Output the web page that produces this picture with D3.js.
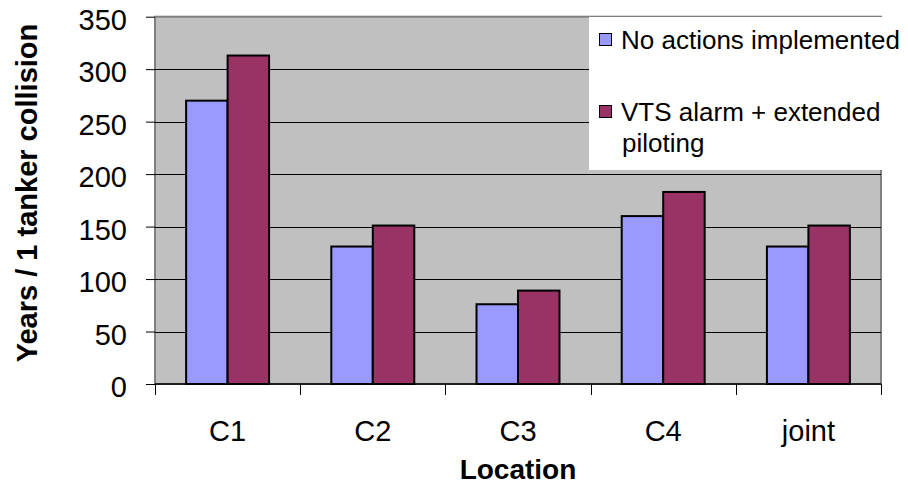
<!DOCTYPE html>
<html>
<head>
<meta charset="utf-8">
<script src="https://cdn.jsdelivr.net/npm/d3@7"></script>
<style>
    body { margin: 0; background: #ffffff; }
    svg { display: block; font-family: "Liberation Sans", Arial, sans-serif; }
</style>
</head>
<body>
<div id="chart"></div>
<script>

// data
var categories = ['C1', 'C2', 'C3', 'C4', 'joint']
var series_names = ['No actions implemented', 'VTS alarm + extended piloting']
var no_actions = [270, 131, 76, 160, 131]
var vts_alarm = [313, 151, 89, 183, 151]
var y_ticks = [0, 50, 100, 150, 200, 250, 300, 350]

var colours = {
    'blue': '#9999ff',
    'claret': '#993366',
    'plot_grey': '#c0c0c0',
    'border_grey': '#808080'
}

var dataviz_config = {
    'viz_width': 908,
    'viz_height': 486,
    'plot': { 'left': 155, 'right': 881, 'top': 16.7, 'bottom': 384 }
}

// one row per category, one value per series
var dataset = categories.map(function(c, i) {
    return { 'category': c, 'values': [no_actions[i], vts_alarm[i]] }
})

var svg = d3.select('#chart').append('svg')
    .attr('width', dataviz_config.viz_width)
    .attr('height', dataviz_config.viz_height)

var p = dataviz_config.plot

// scales
var xScale = d3.scaleBand()
    .domain(categories)
    .range([p.left, p.right])
    .paddingInner(0)
    .paddingOuter(0)

// excel style gap width of 150%
var xSub = d3.scaleBand()
    .domain([0, 1])
    .range([0, xScale.bandwidth()])
    .paddingInner(0)
    .paddingOuter(0.75)

var yScale = d3.scaleLinear()
    .domain([0, 350])
    .range([p.bottom, p.top])

// plot area
svg.append('rect')
    .attr('x', p.left)
    .attr('y', p.top)
    .attr('width', p.right - p.left)
    .attr('height', p.bottom - p.top)
    .style('fill', colours.plot_grey)
    .style('stroke', colours.border_grey)
    .style('stroke-width', 2)

// gridlines
svg.append('g')
    .classed('grid', true)
    .selectAll('line')
    .data(y_ticks.filter(d => d > 0 && d < 350))
    .enter()
    .append('line')
    .attr('x1', p.left)
    .attr('x2', p.right)
    .attr('y1', d => Math.round(yScale(d)) + 0.5)
    .attr('y2', d => Math.round(yScale(d)) + 0.5)
    .style('stroke', '#000')
    .style('stroke-width', 1)

// bars
var groups = svg.append('g')
    .classed('data-layer', true)
    .selectAll('g')
    .data(dataset)
    .enter()
    .append('g')
    .attr('transform', d => 'translate(' + xScale(d.category) + ',0)')

groups.selectAll('rect')
    .data(d => d.values)
    .enter()
    .append('rect')
    .attr('x', (d, i) => xSub(i))
    .attr('width', xSub.bandwidth())
    .attr('y', d => yScale(d))
    .attr('height', d => yScale(0) - yScale(d))
    .style('fill', (d, i) => i === 0 ? colours.blue : colours.claret)
    .style('stroke', '#000')
    .style('stroke-width', 2)

// y axis
var yAxisGenerator = d3.axisLeft(yScale)
    .tickValues(y_ticks)
    .tickSizeOuter(0)
    .tickSize(9)
    .tickPadding(19)

var yAxis = svg.append('g')
    .classed('y axis', true)
    .attr('transform', 'translate(' + p.left + ',0)')
    .call(yAxisGenerator)

yAxis.select('.domain').remove()
yAxis.selectAll('.tick line').style('stroke', '#000')
yAxis.selectAll('.tick text')
    .attr('dy', '0.43em')
    .style('font-size', '29px')
    .style('fill', '#000')

// x axis line + boundary ticks
svg.append('line')
    .attr('x1', p.left)
    .attr('x2', p.right)
    .attr('y1', p.bottom)
    .attr('y2', p.bottom)
    .style('stroke', '#000')
    .style('stroke-width', 1.5)

var boundaries = categories.map(c => xScale(c)).concat([xScale.range()[1]])

svg.append('g')
    .classed('x boundary-ticks', true)
    .selectAll('line')
    .data(boundaries)
    .enter()
    .append('line')
    .attr('x1', d => Math.round(d) + 0.5)
    .attr('x2', d => Math.round(d) + 0.5)
    .attr('y1', p.bottom)
    .attr('y2', p.bottom + 11)
    .style('stroke', '#000')

var xAxisGenerator = d3.axisBottom(xScale)
    .tickSize(0)
    .tickPadding(36)

var xAxis = svg.append('g')
    .classed('x axis', true)
    .attr('transform', 'translate(0,' + p.bottom + ')')
    .call(xAxisGenerator)

xAxis.select('.domain').remove()
xAxis.selectAll('.tick text')
    .style('font-size', '29px')
    .style('fill', '#000')

// axis titles
svg.append('text')
    .attr('transform', 'translate(37,193) rotate(-90)')
    .attr('text-anchor', 'middle')
    .style('font-size', '29px')
    .style('font-weight', 'bold')
    .text('Years / 1 tanker collision')

svg.append('text')
    .attr('x', (p.left + p.right) / 2)
    .attr('y', 479)
    .attr('text-anchor', 'middle')
    .style('font-size', '28px')
    .style('font-weight', 'bold')
    .text('Location')

// legend
var legend = svg.append('g').classed('legend', true)

legend.append('rect')
    .attr('x', 589)
    .attr('y', 17)
    .attr('width', 294)
    .attr('height', 153)
    .style('fill', '#fff')

var legend_items = [
    { 'name': series_names[0], 'fill': colours.blue, 'lines': ['No actions implemented'], 'y': 49 },
    { 'name': series_names[1], 'fill': colours.claret, 'lines': ['VTS alarm + extended', 'piloting'], 'y': 121 }
]

legend_items.forEach(function(item) {
    legend.append('rect')
        .attr('x', 599.5)
        .attr('y', item.y - 15.5)
        .attr('width', 12)
        .attr('height', 12)
        .style('fill', item.fill)
        .style('stroke', '#000')
        .style('stroke-width', 1)

    var t = legend.append('text')
        .attr('x', 621)
        .attr('y', item.y)
        .style('font-size', '26px')

    item.lines.forEach(function(line, i) {
        t.append('tspan')
            .attr('x', i === 0 ? 621 : 622)
            .attr('dy', i === 0 ? 0 : 30.7)
            .text(line)
    })
})

</script>
</body>
</html>
